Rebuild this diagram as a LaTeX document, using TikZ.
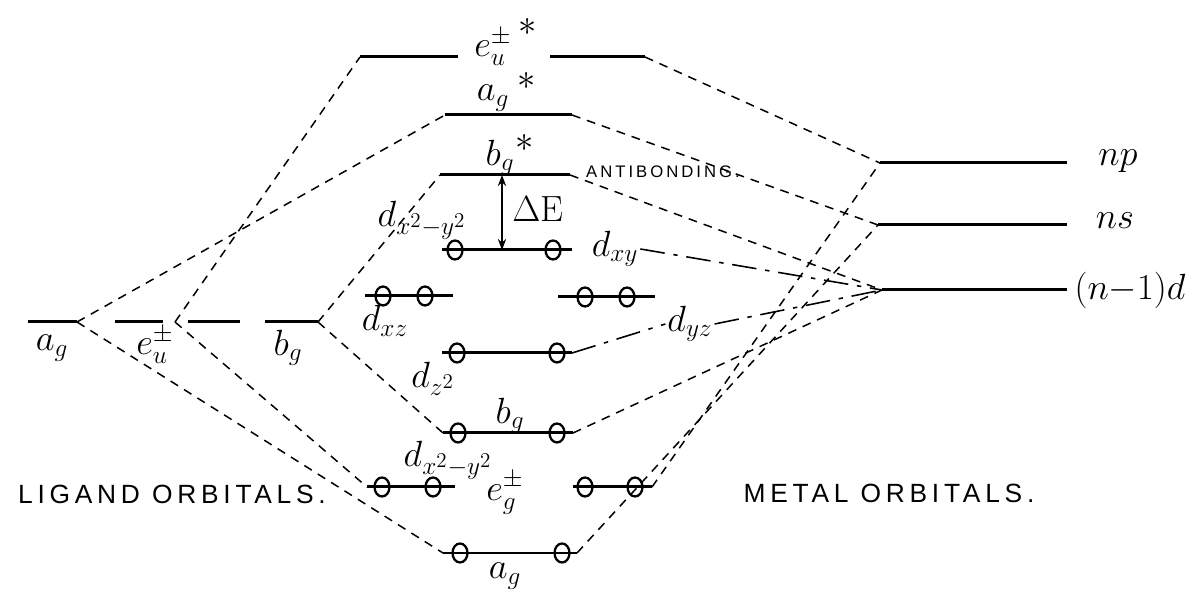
\documentclass[tikz,border=0pt]{standalone}
\usepackage{amsmath,amssymb}
\usepackage{fontspec}
\newfontfamily\capsfont[LetterSpace=18]{Liberation Sans}
\usetikzlibrary{arrows.meta,shapes.geometric}
\tikzset{
  orbline/.style={line width=1.7pt},
  corr/.style   ={line width=0.85pt, dash pattern=on 5pt off 4pt},
  nbcorr/.style ={line width=0.9pt, dash pattern=on 14pt off 5pt on 2.5pt off 5pt},
  elec/.style   ={ellipse, draw, line width=1.3pt, minimum width=0.30cm,
                  minimum height=0.38cm, inner sep=0pt},
  lbl/.style    ={font=\huge, inner sep=1pt},
  starlbl/.style={font=\huge\bfseries, inner sep=0pt},
  caplbl/.style ={font=\capsfont\fontsize{15}{16}\selectfont, inner sep=0pt},
  smallcap/.style={font=\capsfont\fontsize{9.5}{10}\selectfont, inner sep=0pt},
}

\begin{document}
\begin{tikzpicture}[>=Stealth]
\useasboundingbox (0,0) rectangle (23.76,11.90);
% energy levels
\foreach \n/\xa/\xb/\y in {Lag/0.56/1.54/5.46, Leu1/2.30/3.26/5.46, Leu2/3.76/4.80/5.46,
    Lbg/5.30/6.36/5.46, eus1/7.20/9.16/10.76, eus2/11.00/12.90/10.76,
    ags/8.90/11.44/9.60, bgs/8.80/11.40/8.40, dxy/8.84/11.44/6.90,
    dxz/7.30/9.06/5.98, dyz/11.16/13.10/5.96, dz/8.84/11.44/4.84,
    bg/8.86/11.46/3.24, egl/7.34/9.10/2.16, egr/11.46/13.04/2.16,
    ag/8.86/11.54/0.84, np/17.60/21.34/8.64, ns/17.56/21.34/7.40,
    nd/17.64/21.34/6.10}
  {\coordinate (\n-l) at (\xa,\y);
   \coordinate (\n-r) at (\xb,\y);
   \draw[orbline] (\n-l) -- (\n-r);}
\coordinate (Leu-c) at (3.50,5.46);
% electrons
\foreach \x/\y [count=\i] in {9.10/6.90, 11.06/6.90, 7.66/5.98, 8.50/5.98, 11.70/5.96,
    12.54/5.96, 9.14/4.84, 11.14/4.84, 9.16/3.24, 11.14/3.24, 7.64/2.16, 8.66/2.16,
    11.70/2.16, 12.70/2.16, 9.20/0.84, 11.24/0.84}
  {\node[elec] (el\i) at (\x,\y) {};}
% labels
\node[lbl] (tLag)  at (1.04,4.94)  {$a_g$};
\node[lbl] (tLeu)  at (3.10,5.00)  {$e^{\pm}_{u}$};
\node[lbl] (tLbg)  at (5.76,4.94)  {$b_g$};
\node[lbl] (teus)  at (9.86,10.96) {$e^{\pm}_{u}$};
\node[lbl] (tags)  at (9.86,9.94)  {$a_g$};
\node[lbl] (tbgs)  at (10.00,8.74) {$b_g$};
\node[starlbl] (seus) at (10.56,11.36) {$\ast$};
\node[starlbl] (sags) at (10.54,10.28) {$\ast$};
\node[starlbl] (sbgs) at (10.50,9.04)  {$\ast$};
\node[smallcap] (tanti) at (13.26,8.46) {ANTIBONDING.};
\node[lbl] (tdx2)  at (8.44,7.50)  {$d_{x^2-y^2}$};
\node[lbl] (tdE)   at (10.76,7.72) {$\Delta\mathrm{E}$};
\node[lbl] (tdxy)  at (12.30,6.92) {$d_{xy}$};
\node[lbl] (tdxz)  at (7.70,5.48)  {$d_{xz}$};
\node[lbl] (tdyz)  at (13.80,5.42) {$d_{yz}$};
\node[lbl] (tdz)   at (8.66,4.32)  {$d_{z^2}$};
\node[lbl] (tbg)   at (10.20,3.58) {$b_g$};
\node[lbl] (tdxy2) at (8.96,2.70)  {$d_{x^2-y^2}$};
\node[lbl] (teg)   at (10.10,2.04) {$e_g^{\pm}$};
\node[lbl] (tag)   at (10.10,0.38) {$a_g$};
\node[lbl] (tnp)   at (22.36,8.68) {$np$};
\node[lbl] (tns)   at (22.30,7.48) {$ns$};
\node[lbl] (tnd)   at (22.60,6.10) {$(n{-}1)d$};
\node[caplbl] (tlig) at (3.44,2.02)  {LIGAND ORBITALS.};
\node[caplbl] (tmet) at (17.78,2.04) {METAL ORBITALS.};
% correlation lines
\draw[corr] (Lag-r) -- (ags-l);
\draw[corr] (Lag-r) -- (ag-l);
\draw[corr] (Leu-c) -- (eus1-l);
\draw[corr] (Leu-c) -- (egl-l);
\draw[corr] (Lbg-r) -- (bgs-l);
\draw[corr] (Lbg-r) -- (bg-l);
\draw[corr] (eus2-r) -- (np-l);
\draw[corr] (ags-r) -- (ns-l);
\draw[corr] (bgs-r) -- (nd-l);
\draw[corr] (bg-r) -- (nd-l);
\draw[corr] (egr-r) -- (np-l);
\draw[corr] (ag-r) -- (ns-l);
\draw[nbcorr] (tdxy.east) -- (nd-l);
\draw[nbcorr] (dz-r) -- (tdyz.west);
\draw[nbcorr] (tdyz.east) -- (nd-l);
% splitting
\coordinate (dEt) at (10.04,8.40);
\coordinate (dEb) at (10.04,6.90);
\draw[{Stealth[length=2.2mm]}-{Stealth[length=2.2mm]}, line width=1.1pt] (dEt) -- (dEb);
\end{tikzpicture}
\end{document}
